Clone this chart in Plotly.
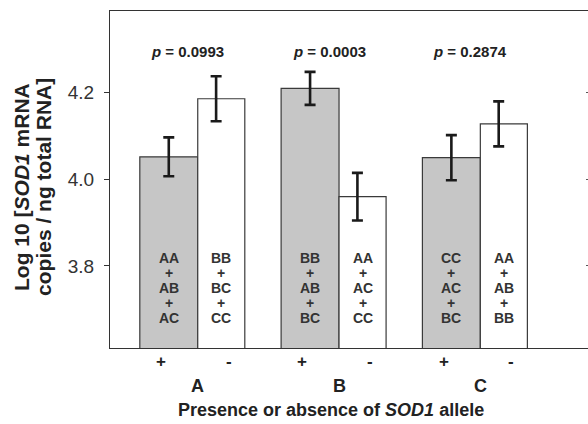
import plotly.graph_objects as go

# ---- data ----
alleles = ["A", "B", "C"]
present_mean = [4.052, 4.210, 4.050]
present_err = [0.045, 0.038, 0.052]
absent_mean = [4.186, 3.960, 4.128]
absent_err = [0.052, 0.055, 0.052]
p_values = ["0.0993", "0.0003", "0.2874"]
present_genos = [["AA", "AB", "AC"], ["BB", "AB", "BC"], ["CC", "AC", "BC"]]
absent_genos = [["BB", "BC", "CC"], ["AA", "AC", "CC"], ["AA", "AB", "BB"]]
y_ticks = [3.8, 4.0, 4.2]

# ---- style ----
FONT = "Arial, Liberation Sans, Helvetica, sans-serif"
TXT = "#222222"
GRAY = "#c6c6c6"
EDGE = "#3a3a3a"
W_P, W_A = 0.41, 0.333
groups = [i + 1 for i in range(len(alleles))]
xp = [g - W_P / 2 for g in groups]
xa = [g + W_A / 2 for g in groups]
xa_err = [g + 0.13 for g in groups]
YR = [3.6107, 4.3886]

fig = go.Figure()
fig.add_trace(go.Bar(x=xp, y=present_mean, width=[W_P] * 3, marker=dict(color=GRAY, line=dict(color=EDGE, width=1.2)),
                     showlegend=False, hoverinfo="skip"))
fig.add_trace(go.Bar(x=xa, y=absent_mean, width=[W_A] * 3, marker=dict(color="white", line=dict(color=EDGE, width=1.2)),
                     showlegend=False, hoverinfo="skip"))
err_style = dict(type="data", visible=True, thickness=2.6, width=5.5, color="#1a1a1a")
fig.add_trace(go.Scatter(x=xp, y=present_mean, mode="markers", marker=dict(size=0.1, color="rgba(0,0,0,0)"),
                         error_y=dict(array=present_err, **err_style), showlegend=False, hoverinfo="skip"))
fig.add_trace(go.Scatter(x=xa_err, y=absent_mean, mode="markers", marker=dict(size=0.1, color="rgba(0,0,0,0)"),
                         error_y=dict(array=absent_err, **err_style), showlegend=False, hoverinfo="skip"))
# invisible trace for right-side tick marks
fig.add_trace(go.Scatter(x=[groups[0]], y=[4.0], yaxis="y2", mode="markers",
                         marker=dict(size=0.1, color="rgba(0,0,0,0)"), showlegend=False, hoverinfo="skip"))

ann = []
for i, g in enumerate(groups):
    ann.append(dict(x=g - 0.07, y=4.294, xref="x", yref="y", showarrow=False,
                    text=f"<b><i>p</i> = {p_values[i]}</b>", font=dict(family=FONT, size=15, color=TXT)))
    for xc, genos in ((xp[i], present_genos[i]), (xa[i], absent_genos[i])):
        lines = [genos[0], "+", genos[1], "+", genos[2]]
        for k, t in enumerate(lines):
            ann.append(dict(x=xc, y=3.749, xref="x", yref="y", showarrow=False, yshift=(2 - k) * 14.85,
                            text=f"<b>{t}</b>", font=dict(family=FONT, size=14, color="#333333")))
    ann.append(dict(x=g - 0.26, y=0, xref="x", yref="paper", yanchor="middle", showarrow=False, yshift=-13,
                    text="<b>+</b>", font=dict(family=FONT, size=17, color=TXT)))
    ann.append(dict(x=g + 0.22, y=0, xref="x", yref="paper", yanchor="middle", showarrow=False, yshift=-13,
                    text="<b>-</b>", font=dict(family=FONT, size=17, color=TXT)))
    ann.append(dict(x=g, y=0, xref="x", yref="paper", yanchor="middle", showarrow=False, yshift=-38,
                    text=f"<b>{alleles[i]}</b>", font=dict(family=FONT, size=18, color=TXT)))

ann.append(dict(x=0.4623, y=0, xref="paper", yref="paper", yanchor="middle", showarrow=False, yshift=-62,
                text="<b>Presence or absence of <i>SOD1</i> allele</b>", font=dict(family=FONT, size=18, color=TXT)))
ann.append(dict(x=-0.184, y=0.478, xref="paper", yref="paper", xanchor="center", yanchor="middle", showarrow=False,
                textangle=-90, text="<b>Log 10 [<i>SOD1</i> mRNA</b>", font=dict(family=FONT, size=21, color=TXT)))
ann.append(dict(x=-0.138, y=0.478, xref="paper", yref="paper", xanchor="center", yanchor="middle", showarrow=False,
                textangle=-90, text="<b>copies / ng total RNA]</b>", font=dict(family=FONT, size=21, color=TXT)))

fig.update_layout(
    width=588, height=424,
    margin=dict(l=110, r=0, t=11, b=76),
    paper_bgcolor="white", plot_bgcolor="white",
    barmode="overlay",
    annotations=ann,
    xaxis=dict(range=[0.379, 3.762], showgrid=False, zeroline=False, showticklabels=False, ticks="",
               showline=True, mirror=True, linecolor="#333333", linewidth=1.3),
    yaxis=dict(range=YR, tickvals=y_ticks, ticktext=[f"{v:.1f}" for v in y_ticks], showgrid=False, zeroline=False,
               ticks="outside", ticklen=5, tickcolor="#333333", tickwidth=1, ticklabelstandoff=6,
               showline=True, linecolor="#333333", linewidth=1.3,
               tickfont=dict(family=FONT, size=19, color="#333333")),
    yaxis2=dict(range=YR, overlaying="y", side="right", anchor="free", position=1.0, tickvals=y_ticks,
                showticklabels=False, ticks="inside", ticklen=2, tickcolor="#555555",
                showgrid=False, zeroline=False, showline=False),
)

fig.write_html("out.html", config={"displayModeBar": False},
               post_script="document.body.style.margin='0';document.body.style.overflow='hidden';")
